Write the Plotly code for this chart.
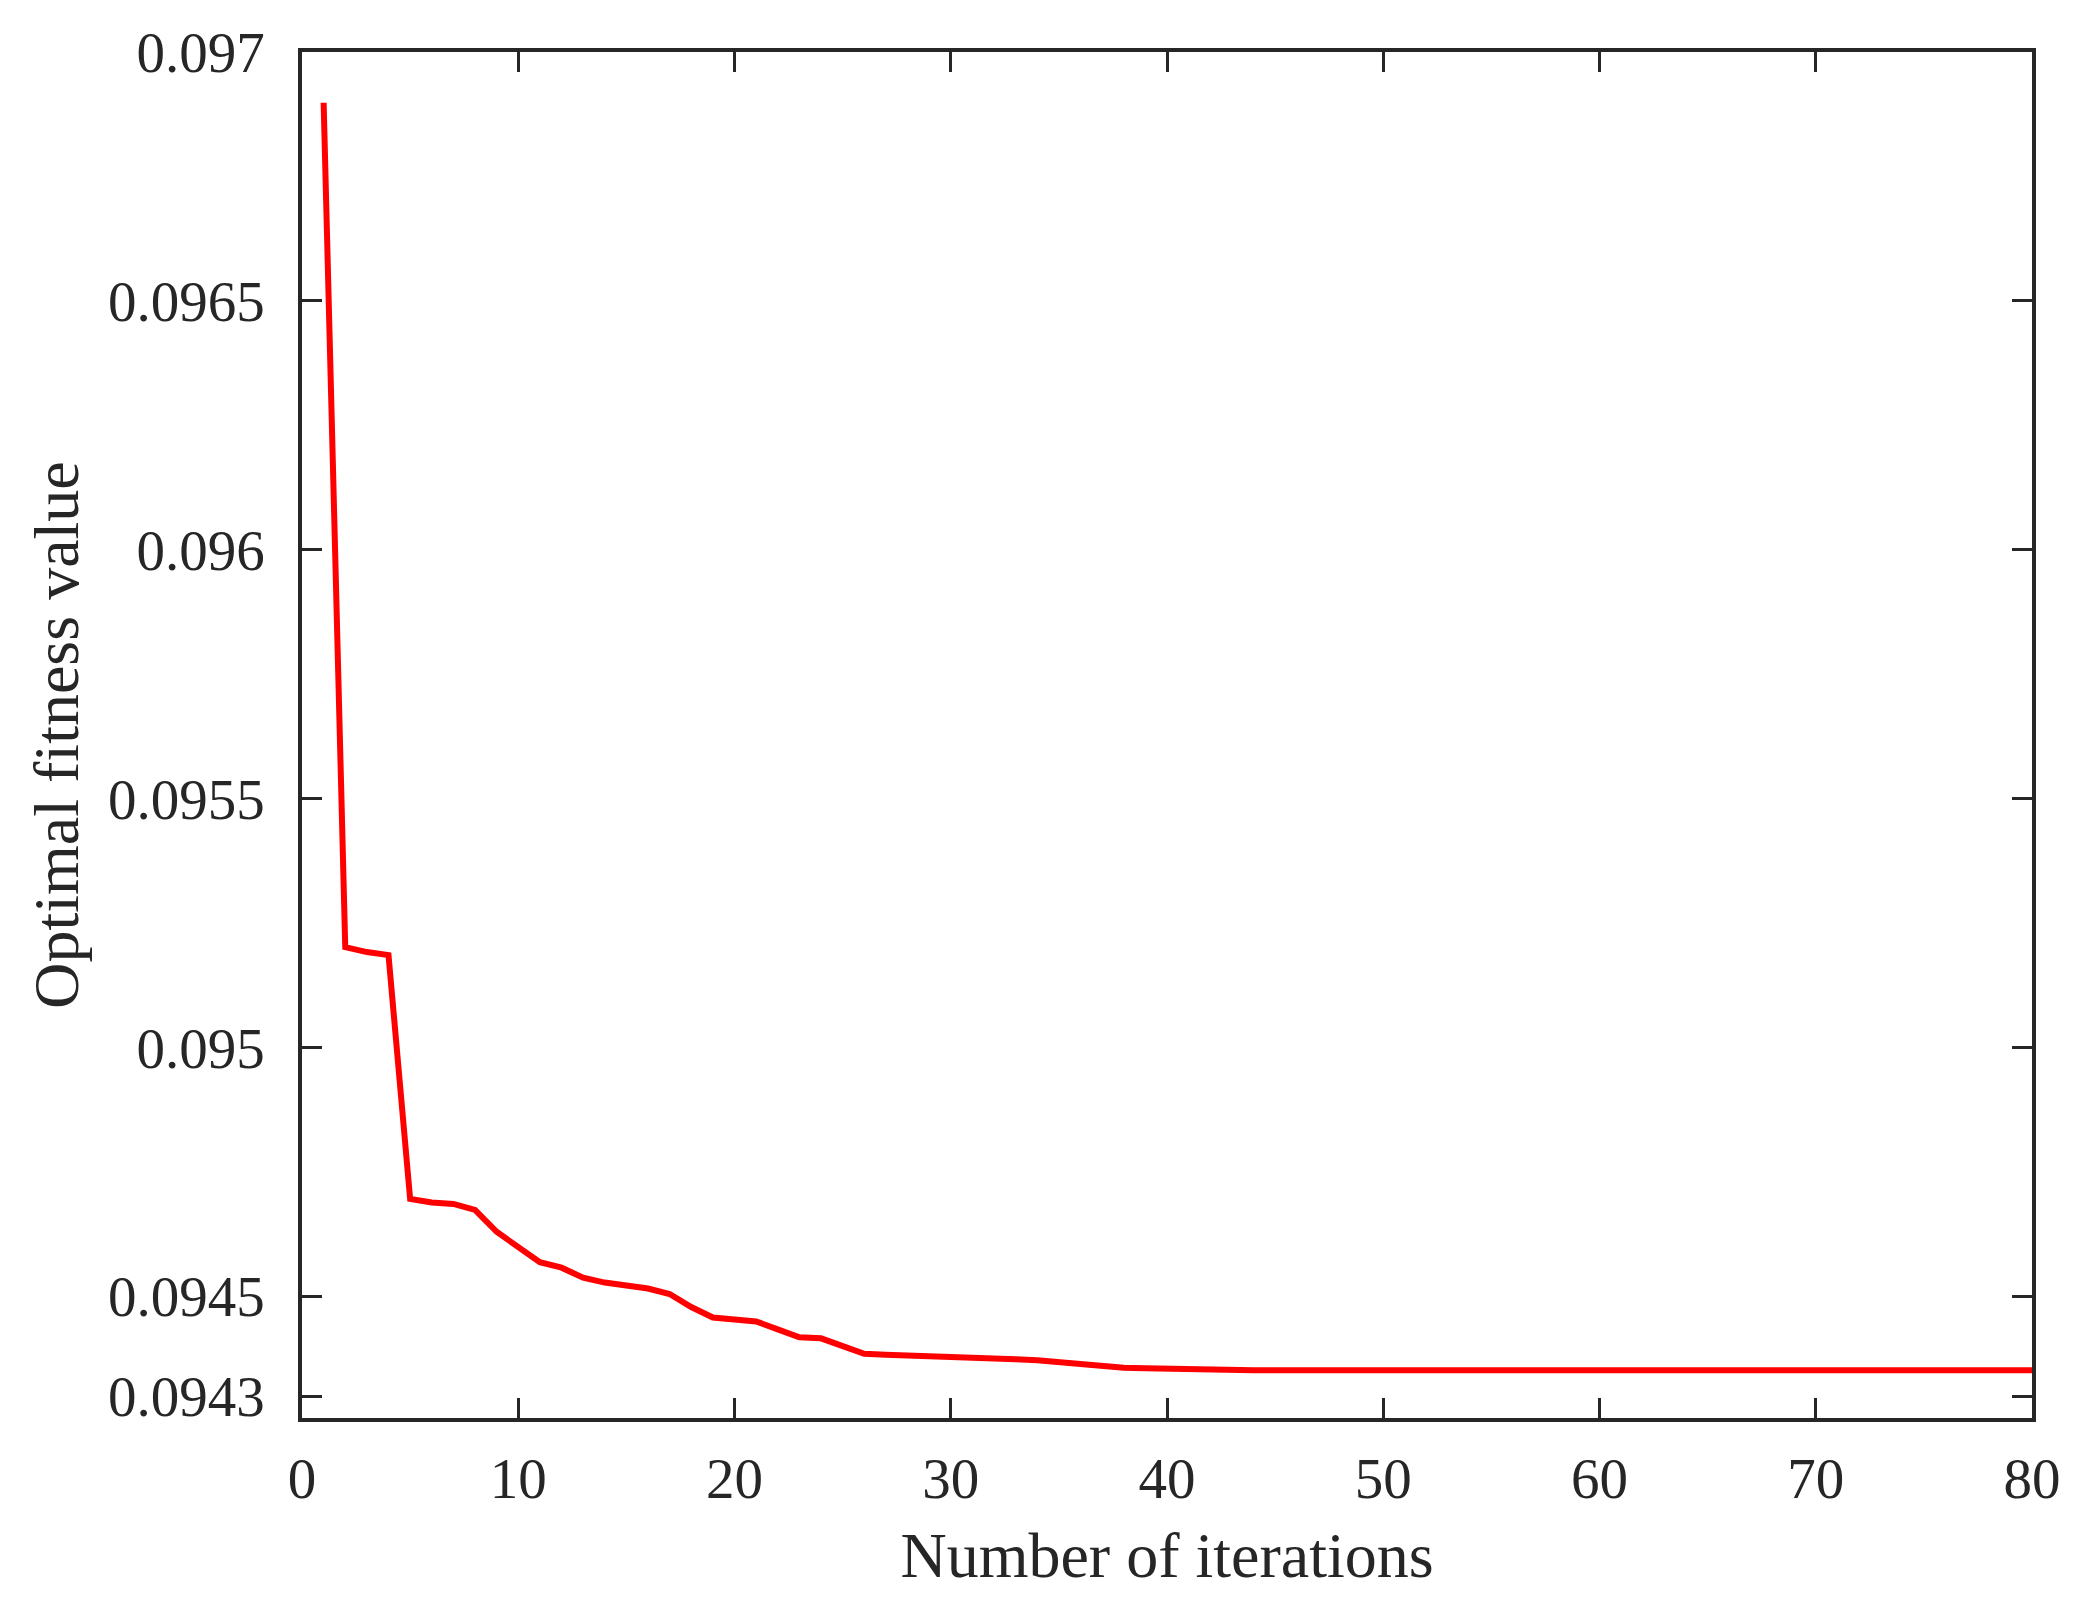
import plotly.graph_objects as go

# iteration number and best fitness found so far
iterations = list(range(1, 81))
fitness = [
    0.096898, 0.095202, 0.095192, 0.095186, 0.094696, 0.094689, 0.094686, 0.094674,
    0.094630, 0.094600, 0.094569, 0.094558, 0.094538, 0.094528, 0.094522, 0.094516,
    0.094505, 0.094479, 0.094458, 0.094455, 0.094450, 0.094434, 0.094418, 0.094416,
    0.094399, 0.094385, 0.094383, 0.094382, 0.094380, 0.094379, 0.094376, 0.094375,
    0.094374, 0.094372, 0.094368, 0.094364, 0.094358, 0.094357, 0.094356, 0.094355,
    0.094353, 0.094352, 0.094352, 0.094352, 0.094352, 0.094352, 0.094352, 0.094352,
    0.094352, 0.094352, 0.094352, 0.094352, 0.094352, 0.094352, 0.094352, 0.094352,
    0.094352, 0.094352, 0.094352, 0.094352, 0.094352, 0.094352, 0.094352, 0.094352,
    0.094352, 0.094352, 0.094352, 0.094352, 0.094352, 0.094352, 0.094352, 0.094352,
    0.094352, 0.094352, 0.094352, 0.094352, 0.094352, 0.094352, 0.094352, 0.094352,
]

x_ticks = [0, 10, 20, 30, 40, 50, 60, 70, 80]
y_ticks = [0.0943, 0.0945, 0.095, 0.0955, 0.096, 0.0965, 0.097]
y_tick_text = ["0.0943", "0.0945", "0.095", "0.0955", "0.096", "0.0965", "0.097"]

axis_color = "#262626"
font_family = "Liberation Serif, Times New Roman, serif"

fig = go.Figure()
fig.add_trace(go.Scatter(x=iterations, y=fitness, mode="lines",
                         line=dict(color="#ff0000", width=6),
                         showlegend=False))

common_axis = dict(showline=True, linecolor=axis_color, linewidth=3.5,
                   mirror="ticks", ticks="inside", ticklen=20, tickwidth=3,
                   tickcolor=axis_color, showgrid=False, zeroline=False,
                   tickfont=dict(family=font_family, size=57, color=axis_color))

fig.update_xaxes(range=[0, 80], tickvals=x_ticks, ticklabelstandoff=8,
                 title=dict(text="Number of iterations", standoff=24,
                            font=dict(family=font_family, size=64, color=axis_color)),
                 **common_axis)
fig.update_yaxes(range=[0.094256, 0.097], tickvals=y_ticks, ticktext=y_tick_text,
                 ticklabelstandoff=22,
                 title=dict(text="Optimal fitness value", standoff=10,
                            font=dict(family=font_family, size=64, color=axis_color)),
                 **common_axis)

fig.update_layout(width=2076, height=1598,
                  margin=dict(l=294, r=52, t=44, b=188),
                  plot_bgcolor="white", paper_bgcolor="white")

fig.write_html("out.html")
